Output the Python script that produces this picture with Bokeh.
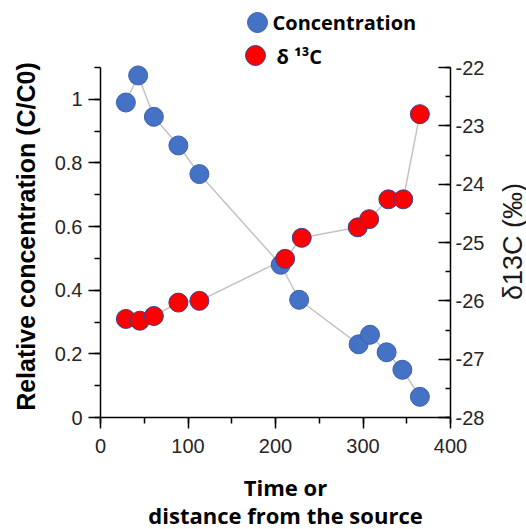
import math
from bokeh.plotting import figure
from bokeh.models import Range1d, LinearAxis, SingleIntervalTicker, CustomJSTickFormatter
from bokeh.core.properties import value
from bokeh.embed import file_html
from bokeh.resources import INLINE

# ---------------- data ----------------
conc_x = [29, 43, 61, 89, 113, 206, 227, 295, 308, 327, 345, 365]
conc_y = [0.99, 1.075, 0.945, 0.855, 0.765, 0.48, 0.37, 0.23, 0.26, 0.205, 0.15, 0.065]
d13c_x = [29, 45, 61, 89, 113, 211, 230, 294, 307, 329, 346, 365]
d13c_y = [-26.31, -26.34, -26.26, -26.03, -26.0, -25.28, -24.92, -24.74, -24.6, -24.26, -24.26, -22.8]

x_bounds = (0, 400)
y_left_bounds = (0, 1.1)
y_right_bounds = (-28, -22)
legend_labels = ["Concentration", "δ ¹³C"]
x_label_lines = ["Time or", "distance from the source"]
y_left_label = "Relative concentration (C/C0)"
y_right_label = "δ13C (‰)"

# ---------------- layout (pixels on the page) ----------------
W, H = 526, 529
AX_L, AX_R, AX_T, AX_B = 100, 450, 67, 417   # where the axes lie


def span(lo_val, hi_val, lo_px, hi_px, size, flip=False):
    """Range whose frame covers the whole canvas, with lo_val at lo_px and hi_val at hi_px."""
    per_px = (hi_val - lo_val) / (hi_px - lo_px)
    if flip:  # screen y grows downward
        return Range1d(lo_val - (size - lo_px) * -per_px, lo_val + lo_px * -per_px)
    return Range1d(lo_val - lo_px * per_px, lo_val + (size - lo_px) * per_px)


x_range = span(x_bounds[0], x_bounds[1], AX_L, AX_R, W)
yl_range = span(y_left_bounds[0], y_left_bounds[1], AX_B, AX_T, H, flip=True)
yr_range = span(y_right_bounds[0], y_right_bounds[1], AX_B, AX_T, H, flip=True)

p = figure(width=W, height=H, output_backend="svg", toolbar_location=None,
           x_range=x_range, y_range=yl_range,
           min_border_left=0, min_border_right=0, min_border_top=0, min_border_bottom=0)
p.outline_line_color = None
p.grid.visible = False
p.background_fill_color = "white"
p.border_fill_color = "white"

p.extra_y_ranges = {"d13c": yr_range, "py": Range1d(H, 0)}
p.extra_x_ranges = {"px": Range1d(0, W)}

TICK_FONT = "Liberation Sans"


def style_axis(ax):
    ax.axis_line_color = "black"
    ax.axis_line_width = 1.5
    ax.major_tick_line_color = "black"
    ax.minor_tick_line_color = "black"
    ax.major_tick_line_width = 1.5
    ax.minor_tick_line_width = 1.5
    ax.major_label_text_font = TICK_FONT
    ax.major_label_text_font_size = "20px"
    ax.major_label_text_color = "#262626"
    ax.axis_label = None


# x axis
xa = p.xaxis[0]
xa.ticker = SingleIntervalTicker(interval=100, num_minor_ticks=2)
xa.bounds = x_bounds
xa.fixed_location = y_left_bounds[0]
style_axis(xa)
xa.major_tick_out = 11
xa.major_tick_in = 0
xa.minor_tick_out = 6
xa.minor_tick_in = 0
xa.major_label_standoff = 10

# left axis
ya = p.yaxis[0]
ya.ticker = SingleIntervalTicker(interval=0.2, num_minor_ticks=2)
ya.formatter = CustomJSTickFormatter(code="return tick.toFixed(1).replace(/\\.0$/, '');")
ya.bounds = (y_left_bounds[0], y_left_bounds[1] + 1e-6)
ya.fixed_location = x_bounds[0]
style_axis(ya)
ya.major_tick_out = 12
ya.major_tick_in = 0
ya.minor_tick_out = 6
ya.minor_tick_in = 0
ya.major_label_standoff = 6

# right axis
ra = LinearAxis(y_range_name="d13c")
ra.ticker = SingleIntervalTicker(interval=1, num_minor_ticks=2)
ra.formatter = CustomJSTickFormatter(code="return tick.toFixed(0);")
ra.bounds = (y_right_bounds[0], y_right_bounds[1] + 1e-6)
ra.fixed_location = x_bounds[1]
style_axis(ra)
ra.major_tick_in = 12
ra.major_tick_out = 0
ra.minor_tick_in = 5
ra.minor_tick_out = 0
ra.major_label_standoff = 5
p.add_layout(ra, "right")

# connecting lines
p.line(conc_x, conc_y, line_color="#c3c3c3", line_width=1.5)
p.line(d13c_x, d13c_y, line_color="#c3c3c3", line_width=1.5, y_range_name="d13c")

# points
BLUE, BLUE_EDGE = "#4472C4", "#3f5fb0"
RED, RED_EDGE = "#FF0000", "#3a3f8f"
p.scatter(conc_x, conc_y, size=19, fill_color=BLUE, line_color=BLUE_EDGE, line_width=1)
p.scatter(d13c_x, d13c_y, size=19, fill_color=RED, line_color=RED_EDGE, line_width=1,
          y_range_name="d13c")

# legend (page-pixel coordinates)
p.scatter([257, 255], [22, 55], size=20, fill_color=[BLUE, RED], line_color=[BLUE_EDGE, RED_EDGE],
          line_width=1, x_range_name="px", y_range_name="py")
p.text([272, 276], [22, 56], text=legend_labels, text_align="left", text_baseline="middle",
       text_font=value("Open Sans"), text_font_style="bold", text_font_size="20px",
       text_color="black", x_range_name="px", y_range_name="py")

# axis titles (page-pixel coordinates)
p.text([285, 285], [486, 514], text=x_label_lines, text_align="center", text_baseline="middle",
       text_font=value("Open Sans"), text_font_style="bold", text_font_size="22px",
       text_color="black", x_range_name="px", y_range_name="py")
p.text([25], [236], text=[y_left_label], angle=math.pi / 2, text_align="center",
       text_baseline="middle", text_font=value("Liberation Sans"), text_font_style="bold",
       text_font_size="25px", text_color="black", x_range_name="px", y_range_name="py")
p.text([512], [241], text=[y_right_label], angle=math.pi / 2, text_align="center",
       text_baseline="middle", text_font=value("Liberation Sans"), text_font_size="27px",
       text_color="#1a1a1a", x_range_name="px", y_range_name="py")

open("out.html", "w").write(file_html(p, INLINE))
